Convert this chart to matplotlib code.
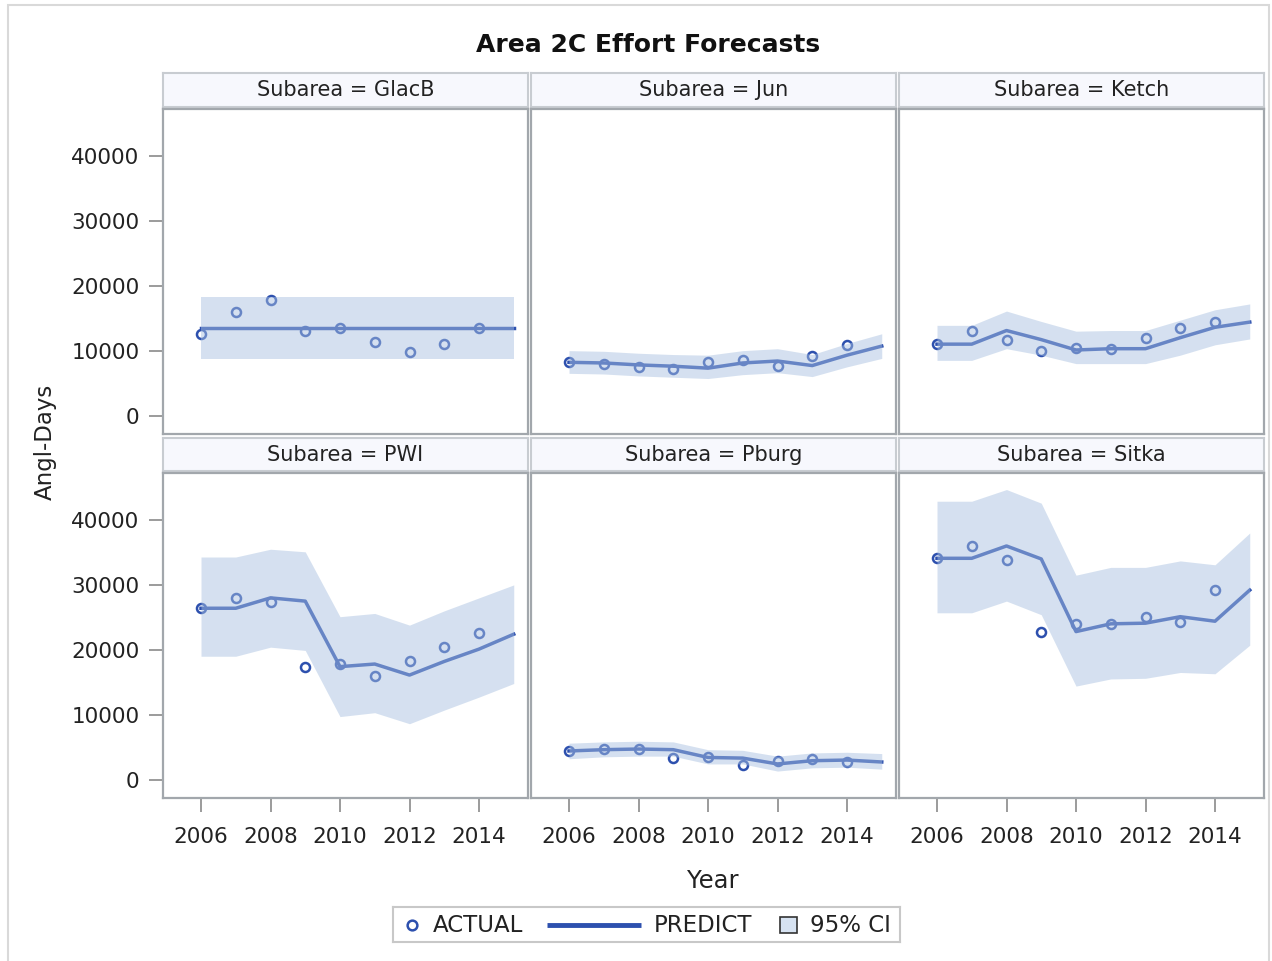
import matplotlib.pyplot as plt
from matplotlib.patches import Rectangle

# data
subareas = ["GlacB", "Jun", "Ketch", "PWI", "Pburg", "Sitka"]
years = [2006, 2007, 2008, 2009, 2010, 2011, 2012, 2013, 2014, 2015]
actual_years = years[:9]
xticks = [2006, 2008, 2010, 2012, 2014]
yticks = [0, 10000, 20000, 30000, 40000]

glacb_actual = [12600, 16000, 17800, 13100, 13500, 11300, 9800, 11000, 13500]
glacb_predict = [13500, 13500, 13500, 13500, 13500, 13500, 13500, 13500, 13500, 13500]
glacb_lower = [8700, 8700, 8700, 8700, 8700, 8700, 8700, 8700, 8700, 8700]
glacb_upper = [18300, 18300, 18300, 18300, 18300, 18300, 18300, 18300, 18300, 18300]

jun_actual = [8200, 7900, 7500, 7200, 8200, 8600, 7600, 9200, 10800]
jun_predict = [8200, 8100, 7800, 7600, 7300, 8100, 8400, 7700, 9300, 10700]
jun_lower = [6500, 6400, 6100, 5900, 5700, 6300, 6600, 6000, 7500, 8800]
jun_upper = [10000, 9900, 9600, 9400, 9300, 10000, 10300, 9400, 11100, 12600]

ketch_actual = [11000, 13100, 11600, 10000, 10400, 10300, 11900, 13500, 14400]
ketch_predict = [11000, 11000, 13100, 11700, 10100, 10300, 10300, 12000, 13600, 14400]
ketch_lower = [8500, 8500, 10300, 9300, 8000, 8000, 8000, 9300, 10900, 11800]
ketch_upper = [13900, 13900, 16100, 14500, 13000, 13100, 13100, 14700, 16300, 17200]

pwi_actual = [26400, 28000, 27300, 17300, 17800, 16000, 18200, 20400, 22600]
pwi_predict = [26400, 26400, 28000, 27500, 17400, 17800, 16100, 18200, 20100, 22400]
pwi_lower = [19000, 19000, 20400, 19900, 9700, 10300, 8600, 10700, 12700, 14800]
pwi_upper = [34300, 34300, 35500, 35100, 25100, 25600, 23800, 26000, 28000, 30000]

pburg_actual = [4400, 4700, 4700, 3300, 3400, 2200, 2800, 3200, 2700]
pburg_predict = [4400, 4600, 4700, 4600, 3400, 3300, 2400, 2900, 3000, 2700]
pburg_lower = [3200, 3500, 3600, 3600, 2400, 2400, 1300, 1800, 1900, 1600]
pburg_upper = [5600, 5800, 5900, 5800, 4600, 4500, 3600, 4100, 4200, 4000]

sitka_actual = [34100, 36000, 33900, 22700, 24000, 24000, 25000, 24300, 29200]
sitka_predict = [34100, 34100, 36000, 34000, 22800, 24000, 24100, 25100, 24400, 29200]
sitka_lower = [25700, 25700, 27500, 25400, 14400, 15500, 15600, 16500, 16300, 20700]
sitka_upper = [42900, 42900, 44700, 42600, 31500, 32700, 32700, 33700, 33100, 38000]

actual = [glacb_actual, jun_actual, ketch_actual, pwi_actual, pburg_actual, sitka_actual]
predict = [glacb_predict, jun_predict, ketch_predict, pwi_predict, pburg_predict, sitka_predict]
lower = [glacb_lower, jun_lower, ketch_lower, pwi_lower, pburg_lower, sitka_lower]
upper = [glacb_upper, jun_upper, ketch_upper, pwi_upper, pburg_upper, sitka_upper]

W, H = 1272, 961
DARK = "#2D50AE"
BAND = "#A8C0E0"
TXT = "#222222"
plt.rcParams["font.family"] = "DejaVu Sans"

fig = plt.figure(figsize=(W / 100, H / 100), dpi=100)


def box(x0, y0, x1, y1):
    # pixel box (top-left origin) -> figure fraction rect
    return [x0 / W, 1 - y1 / H, (x1 - x0) / W, (y1 - y0) / H]


col_x = [163, 531, 899]
row_y = [(73, 107, 109, 434), (438, 471, 473, 798)]
panel_w = 365

for i, name in enumerate(subareas):
    r, c = divmod(i, 3)
    hy0, hy1, py0, py1 = row_y[r]
    x0 = col_x[c]

    # header strip
    hax = fig.add_axes(box(x0, hy0, x0 + panel_w, hy1))
    hax.set_facecolor("#F7F8FD")
    hax.set_xticks([])
    hax.set_yticks([])
    for s in hax.spines.values():
        s.set_color("#C8CCD1")
        s.set_linewidth(1.5)
    hax.text(0.5, 0.5, f"Subarea = {name}", ha="center", va="center",
             fontsize=15, color=TXT, transform=hax.transAxes)

    ax = fig.add_axes(box(x0, py0, x0 + panel_w, py1))
    ax.plot(actual_years, actual[i], linestyle="none", marker="o", markersize=6.5,
            markerfacecolor="none", markeredgecolor=DARK, markeredgewidth=1.8, zorder=2)
    ax.plot(years, predict[i], color=DARK, linewidth=2.5, zorder=2)
    ax.fill_between(years, lower[i], upper[i], color=BAND, alpha=0.48,
                    linewidth=0, zorder=3)

    ax.set_xlim(2006 - 38 / 34.75, 2006 + 327 / 34.75)
    ax.set_ylim(-2850, 47250)
    ax.set_xticks(xticks)
    ax.set_yticks(yticks)
    for s in ax.spines.values():
        s.set_color("#A2A7AC")
        s.set_linewidth(1.6)
    ax.tick_params(colors="#8A8A8A", labelcolor=TXT, labelsize=15.5, length=10, width=1.2)
    ax.tick_params(axis="y", pad=7)
    ax.tick_params(axis="x", pad=11)
    if c != 0:
        ax.tick_params(axis="y", left=False, labelleft=False)
    if r != 1:
        ax.tick_params(axis="x", bottom=False, labelbottom=False)

fig.text(648 / W, 1 - 45 / H, "Area 2C Effort Forecasts", ha="center", va="center",
         fontsize=18, fontweight="bold", color="#111111")
fig.text(45 / W, 1 - 442 / H, "Angl-Days", rotation=90, ha="center", va="center",
         fontsize=16.5, color=TXT)
fig.text(713 / W, 1 - 881 / H, "Year", ha="center", va="center", fontsize=17.5, color=TXT)

# legend box drawn in pixel coordinates
lax = fig.add_axes(box(393, 907, 900, 942))
lax.set_xlim(393, 900)
lax.set_ylim(942, 907)
lax.set_xticks([])
lax.set_yticks([])
for s in lax.spines.values():
    s.set_color("#C8C8C8")
    s.set_linewidth(1.5)
lax.plot([412], [925], marker="o", markersize=7, markerfacecolor="none",
         markeredgecolor=DARK, markeredgewidth=1.8)
lax.text(433, 925, "ACTUAL", va="center", ha="left", fontsize=16.5, color=TXT)
lax.plot([547, 641], [925, 925], color=DARK, linewidth=3.5, solid_capstyle="butt")
lax.text(654, 925, "PREDICT", va="center", ha="left", fontsize=16.5, color=TXT)
lax.add_patch(Rectangle((780, 917), 17, 16, facecolor="#D6E2F1", edgecolor="#333333", linewidth=1.2))
lax.text(810, 925, "95% CI", va="center", ha="left", fontsize=16.5, color=TXT)

# light frame of the screenshot
fig.patches.append(Rectangle((8 / W, -0.01), (1269 - 8) / W, 1 - 5 / H + 0.01,
                             transform=fig.transFigure, fill=False,
                             edgecolor="#D9D9D9", linewidth=1.5))

plt.savefig("out.png", dpi=100)
